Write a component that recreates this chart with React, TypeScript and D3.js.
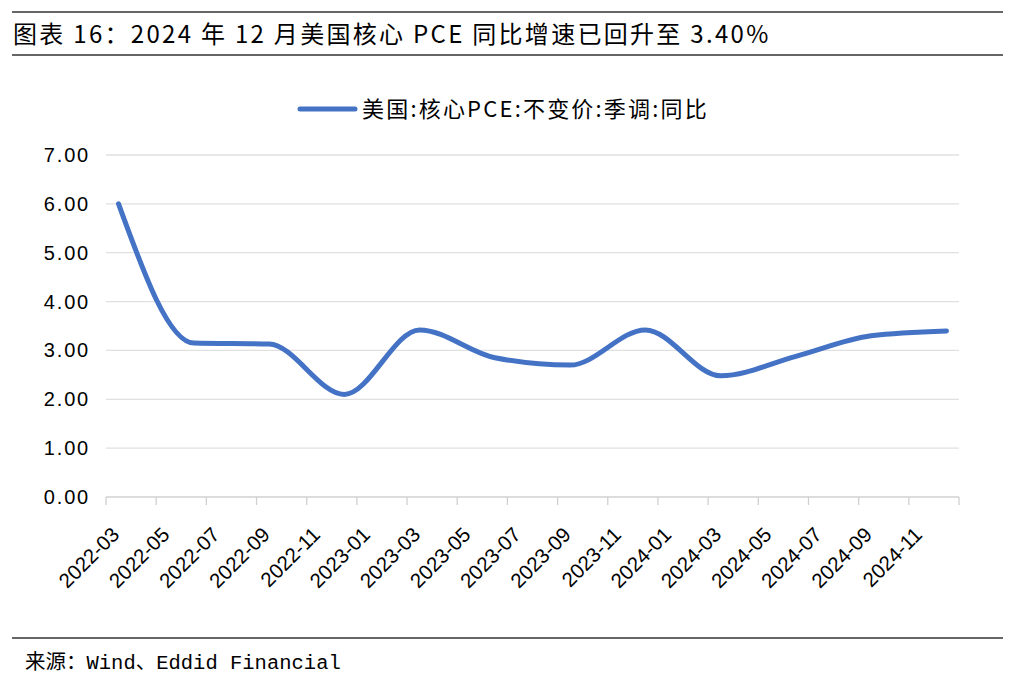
import React from "react";
import * as d3 from "d3";

const months: string[] = (() => {
  const out: string[] = [];
  for (let y = 2022; y <= 2024; y++) {
    for (let m = 1; m <= 12; m++) {
      if (y === 2022 && m < 3) continue;
      out.push(`${y}-${String(m).padStart(2, "0")}`);
    }
  }
  return out;
})();

const pointMonths = [
  "2022-03", "2022-06", "2022-09", "2022-12",
  "2023-03", "2023-06", "2023-09", "2023-12",
  "2024-03", "2024-06", "2024-09", "2024-12",
];
const pointValues = [6.0, 3.15, 3.13, 2.1, 3.42, 2.85, 2.7, 3.42, 2.48, 2.88, 3.3, 3.4];

const yTicks = [0, 1, 2, 3, 4, 5, 6, 7];
const seriesName = "美国:核心PCE:不变价:季调:同比";
const title = "图表 16：2024 年 12 月美国核心 PCE 同比增速已回升至 3.40%";
const source = "来源：Wind、Eddid Financial";

const W = 1017;
const H = 683;

export default function App() {
  const x = d3.scaleBand<string>().domain(months).range([106, 959]).padding(0);
  const y = d3.scaleLinear().domain([0, 7]).range([497, 155]);
  const cx = (m: string) => (x(m) as number) + x.bandwidth() / 2;

  const line = d3
    .line<number>()
    .x((_, i) => cx(pointMonths[i]))
    .y((d) => y(d))
    .curve(d3.curveMonotoneX);

  const tickIdx = months.map((_, i) => i).filter((i) => i % 2 === 0);
  const labelMonths = months.filter((_, i) => i % 2 === 0);
  const cjk = "'Noto Sans CJK SC', 'Noto Sans', sans-serif";

  return (
    <svg width={W} height={H} viewBox={`0 0 ${W} ${H}`} style={{ display: "block", position: "absolute", left: 0, top: 0 }}>
      <rect width={W} height={H} fill="#fff" />
      {/* header lines */}
      <line x1={12} x2={1003} y1={12} y2={12} stroke="#333" strokeWidth={1.5} />
      <line x1={12} x2={1003} y1={55} y2={55} stroke="#333" strokeWidth={1.5} />
      <text x={13} y={43} fontFamily={cjk} fontSize={24} fill="#000" letterSpacing={2.3}>
        {title}
      </text>

      {/* legend */}
      <line x1={300} x2={355} y1={109} y2={109} stroke="#4472C4" strokeWidth={5} strokeLinecap="round" />
      <text x={362} y={117} fontFamily={cjk} fontSize={22} fill="#000" letterSpacing={2.2}>
        {seriesName}
      </text>

      {/* gridlines */}
      {yTicks.map((t) => (
        <g key={t}>
          <line x1={106} x2={959} y1={y(t)} y2={y(t)} stroke={t === 0 ? "#d0d0d0" : "#e0e0e0"} strokeWidth={1.3} />
          <text x={90} y={y(t) + 7} textAnchor="end" fontFamily="'Liberation Sans', Arial, sans-serif" fontSize={20} fill="#000" letterSpacing={1.8}>
            {d3.format(".2f")(t)}
          </text>
        </g>
      ))}

      {/* x ticks */}
      {tickIdx.map((i) => (
        <line key={i} x1={x(months[i]) as number} x2={x(months[i]) as number} y1={497} y2={505} stroke="#d0d0d0" strokeWidth={1.3} />
      ))}
      <line x1={959} x2={959} y1={497} y2={505} stroke="#d0d0d0" strokeWidth={1.3} />

      {labelMonths.map((m) => (
        <text
          key={m}
          transform={`translate(${cx(m) + 2},${536}) rotate(-45)`}
          textAnchor="end"
          fontFamily="'Liberation Sans', Arial, sans-serif"
          fontSize={20.5}
          fill="#000"
        >
          {m}
        </text>
      ))}

      {/* series */}
      <path d={line(pointValues) || ""} fill="none" stroke="#4472C4" strokeWidth={5} strokeLinecap="round" strokeLinejoin="round" />

      {/* footer */}
      <line x1={12} x2={1003} y1={638} y2={638} stroke="#333" strokeWidth={1.5} />
      <text x={25} y={669} fontFamily={`'Liberation Mono', ${cjk}`} fontSize={20.5} fill="#000">
        {source}
      </text>
    </svg>
  );
}
